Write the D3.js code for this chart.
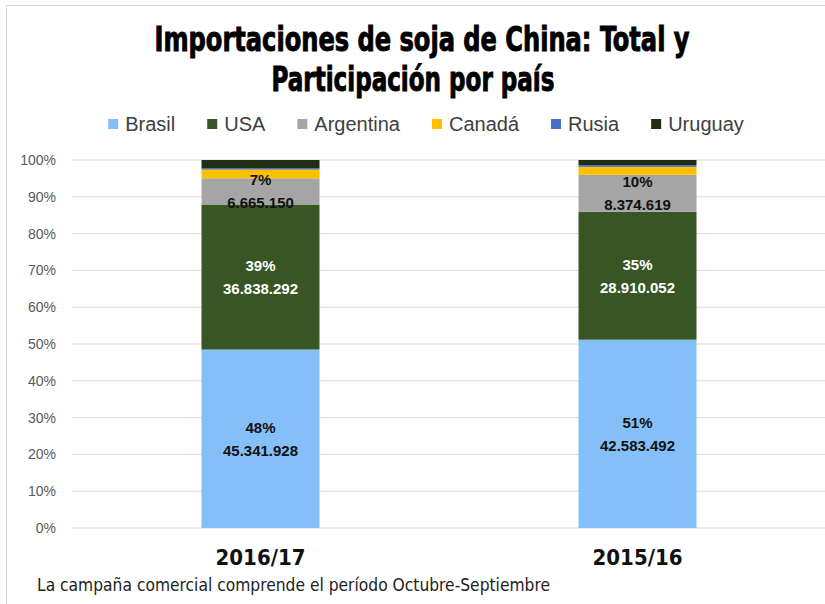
<!DOCTYPE html>
<html>
<head>
<meta charset="utf-8">
<script src="https://cdn.jsdelivr.net/npm/d3@7"></script>
<style>
  body { margin: 0; background: #fff; }
  svg { display: block; }
</style>
</head>
<body>
<div class="viz"></div>
<script>
// campaigns (x axis) and countries (stack order, bottom to top)
const campaigns = ['2016/17', '2015/16'];
const countries = ['Brasil', 'USA', 'Argentina', 'Canadá', 'Rusia', 'Uruguay'];
const colors = ['#85BFF7', '#375623', '#A5A5A5', '#FFC000', '#4472C4', '#1F2E14'];
// tonnes imported per campaign, same order as campaigns
const brasil = [45341928, 42583492];
const usa = [36838292, 28910052];
const argentina = [6665150, 8374619];
const canada = [2200000, 1800000];
const rusia = [300000, 400000];
const uruguay = [2150000, 1150000];
const yTicks = [0, 0.1, 0.2, 0.3, 0.4, 0.5, 0.6, 0.7, 0.8, 0.9, 1];
const labelled = ['Brasil', 'USA', 'Argentina'];
const labelColor = { Brasil: '#111', USA: '#fff', Argentina: '#111' };

const w = 825;
const h = 604;
const svg = d3.select('.viz').append('svg')
    .attr('width', w)
    .attr('height', h);

// outer chart border
svg.append('rect')
    .attr('x', 6.5).attr('y', 5.5)
    .attr('width', w).attr('height', h)
    .attr('fill', 'none')
    .attr('stroke', '#d9d9d9');

const series = [brasil, usa, argentina, canada, rusia, uruguay];
const rows = campaigns.map((c, i) => {
    const row = { campaign: c };
    let total = 0;
    countries.forEach((k, j) => { row[k] = series[j][i]; total += series[j][i]; });
    row.total = total;
    countries.forEach(k => { row[k + '_share'] = row[k] / total; });
    return row;
});

const stack = d3.stack()
    .keys(countries)
    .value((d, k) => d[k + '_share']);
const layers = stack(rows);

const x = d3.scaleBand().domain(campaigns).range([72, 826]).padding(0);
const barW = x.bandwidth() * 0.313;
const y = d3.scaleLinear().domain([0, 1]).range([528, 160]);

const fmtLocale = d3.formatLocale({ decimal: ',', thousands: '.', grouping: [3], currency: ['', ''] });
const fmtNum = fmtLocale.format(',d');

// gridlines
svg.append('g').selectAll('line')
    .data(yTicks)
    .enter()
    .append('line')
    .attr('x1', 72).attr('x2', w)
    .attr('y1', d => y(d)).attr('y2', d => y(d))
    .attr('stroke', '#d9d9d9')
    .attr('stroke-width', 1);

// y axis labels
const yAxis = d3.axisLeft(y).tickValues(yTicks).tickFormat(d3.format('.0%')).tickSize(0).tickPadding(0);
const gy = svg.append('g').attr('transform', 'translate(56,0)').call(yAxis);
gy.select('.domain').remove();
gy.selectAll('text')
    .attr('font-family', 'Liberation Sans, Arial, sans-serif')
    .attr('font-size', 14)
    .attr('fill', '#595959');

// bars
const layerG = svg.append('g').selectAll('g')
    .data(layers)
    .enter()
    .append('g')
    .attr('fill', (d, i) => colors[i]);

layerG.selectAll('rect')
    .data(d => d)
    .enter()
    .append('rect')
    .attr('x', d => x(d.data.campaign) + x.bandwidth() / 2 - barW / 2)
    .attr('width', barW)
    .attr('y', d => y(d[1]))
    .attr('height', d => y(d[0]) - y(d[1]));

// data labels
layers.filter(l => labelled.includes(l.key)).forEach(l => {
    const g = svg.append('g')
        .attr('font-family', 'Liberation Sans, Arial, sans-serif')
        .attr('font-weight', 'bold')
        .attr('font-size', 15)
        .attr('text-anchor', 'middle')
        .attr('fill', labelColor[l.key]);
    l.forEach(d => {
        const cx = x(d.data.campaign) + x.bandwidth() / 2;
        const cy = (y(d[0]) + y(d[1])) / 2;
        g.append('text')
            .attr('x', cx).attr('y', cy - 11.5)
            .attr('dy', '0.35em')
            .text(Math.round(d.data[l.key + '_share'] * 100) + '%');
        g.append('text')
            .attr('x', cx).attr('y', cy + 11.5)
            .attr('dy', '0.35em')
            .text(fmtNum(d.data[l.key]));
    });
});

// x axis labels
const xAxis = d3.axisBottom(x).tickSize(0).tickPadding(0);
const gx = svg.append('g').attr('transform', 'translate(0,549)').call(xAxis);
gx.select('.domain').remove();
gx.selectAll('text')
    .attr('dy', '0.71em')
    .attr('font-family', 'Liberation Sans Narrow, DejaVu Sans Condensed, sans-serif')
    .attr('font-stretch', 'condensed')
    .attr('font-weight', 'bold')
    .attr('font-size', 22)
    .attr('fill', '#111');

// title
const title = svg.append('g')
    .attr('font-family', 'Liberation Sans Narrow, DejaVu Sans Condensed, sans-serif')
    .attr('font-stretch', 'condensed')
    .attr('font-weight', 'bold')
    .attr('font-size', 33)
    .attr('text-anchor', 'middle')
    .attr('fill', '#000')
    .attr('stroke', '#000')
    .attr('stroke-width', 0.9);
title.append('text').attr('x', 422).attr('y', 51)
    .attr('textLength', 535).attr('lengthAdjust', 'spacingAndGlyphs')
    .text('Importaciones de soja de China: Total y');
title.append('text').attr('x', 413).attr('y', 91)
    .attr('textLength', 283).attr('lengthAdjust', 'spacingAndGlyphs')
    .text('Participación por país');

// legend
const legend = svg.append('g')
    .attr('font-family', 'Liberation Sans, Arial, sans-serif')
    .attr('font-size', 20)
    .attr('fill', '#404040');
const gap = 32;
let lx = 0;
countries.forEach((c, i) => {
    const g = legend.append('g');
    g.append('rect').attr('width', 10).attr('height', 10).attr('y', -5).attr('fill', colors[i]);
    const t = g.append('text').attr('x', 17).attr('dy', '0.35em').text(c);
    const tw = t.node().getComputedTextLength();
    g.attr('transform', `translate(${lx},0)`);
    lx += 17 + tw + gap;
});
const legendW = lx - gap;
legend.attr('transform', `translate(${(107 + 745) / 2 - legendW / 2},124)`);

// footnote
svg.append('text')
    .attr('x', 37).attr('y', 591)
    .attr('font-family', 'Liberation Sans Narrow, DejaVu Sans Condensed, sans-serif')
    .attr('font-size', 17)
    .attr('fill', '#222')
    .attr('textLength', 513).attr('lengthAdjust', 'spacingAndGlyphs')
    .text('La campaña comercial comprende el período Octubre-Septiembre');
</script>
</body>
</html>
